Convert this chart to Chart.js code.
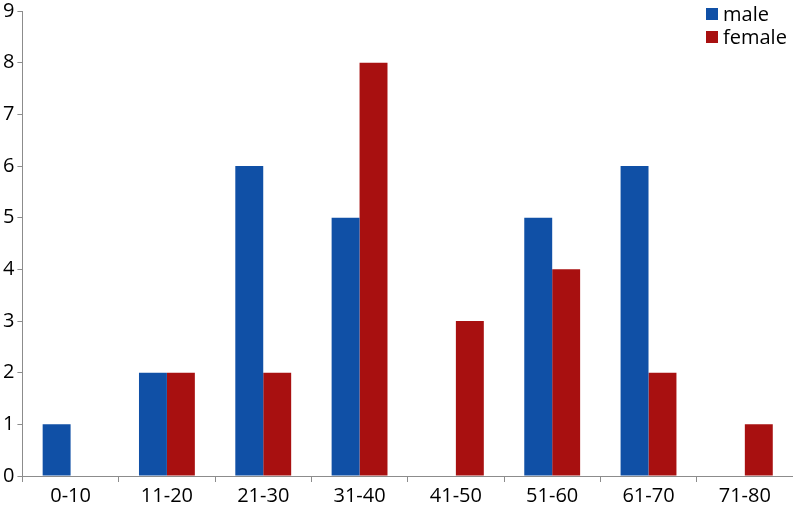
<!DOCTYPE html>
<html>
<head>
<meta charset="utf-8">
<script src="https://cdn.jsdelivr.net/npm/chart.js@4/dist/chart.umd.min.js"></script>
<style>
  html, body { margin: 0; padding: 0; background: #fff; overflow: hidden; }
  #wrap { position: relative; width: 793px; height: 506px; overflow: hidden; }
  #c { position: absolute; left: 0; top: -4px; }
  .legend { position: absolute; left: 706px; top: 2px; font-family: 'Open Sans', sans-serif; font-size: 20px; color: #000; line-height: 23px; }
  .legend div { display: flex; align-items: center; }
  .legend span.box { width: 12px; height: 12px; margin-right: 5px; display: inline-block; }
</style>
</head>
<body>
<div id="wrap">
  <canvas id="c" width="793" height="510"></canvas>
  <div class="legend">
    <div><span class="box" style="background:#1050a6"></span>male</div>
    <div><span class="box" style="background:#a81010"></span>female</div>
  </div>
</div>
<script>
// 年龄段分布（男/女）
const categories = ['0-10', '11-20', '21-30', '31-40', '41-50', '51-60', '61-70', '71-80'];
const maleCounts = [1, 2, 6, 5, 0, 5, 6, 0];
const femaleCounts = [0, 2, 2, 8, 3, 4, 2, 1];
const yTicks = [0, 1, 2, 3, 4, 5, 6, 7, 8, 9];

const font = { family: "'Open Sans', sans-serif", size: 20 };
const axisGray = '#8c8c8c';

new Chart(document.getElementById('c'), {
    type: 'bar',
    data: {
        labels: categories,
        datasets: [
            { label: 'male', data: maleCounts, backgroundColor: '#1050a6', barPercentage: 1, categoryPercentage: 0.58 },
            { label: 'female', data: femaleCounts, backgroundColor: '#a81010', barPercentage: 1, categoryPercentage: 0.58 }
        ]
    },
    options: {
        responsive: false,
        animation: false,
        layout: { padding: { top: 0, right: 0, bottom: -4, left: 0 } },
        plugins: { legend: { display: false }, tooltip: { enabled: false } },
        scales: {
            x: {
                grid: { offset: true, drawOnChartArea: false, tickLength: 6, color: axisGray },
                border: { color: axisGray, width: 1 },
                ticks: { color: '#000', font, padding: 2, maxRotation: 0 }
            },
            y: {
                min: 0,
                max: 9,
                afterBuildTicks: axis => { axis.ticks = yTicks.map(v => ({ value: v })); },
                grid: { drawOnChartArea: false, tickLength: 5, color: axisGray },
                border: { color: axisGray, width: 1 },
                ticks: { color: '#000', font, padding: 3 }
            }
        }
    }
});
</script>
</body>
</html>
